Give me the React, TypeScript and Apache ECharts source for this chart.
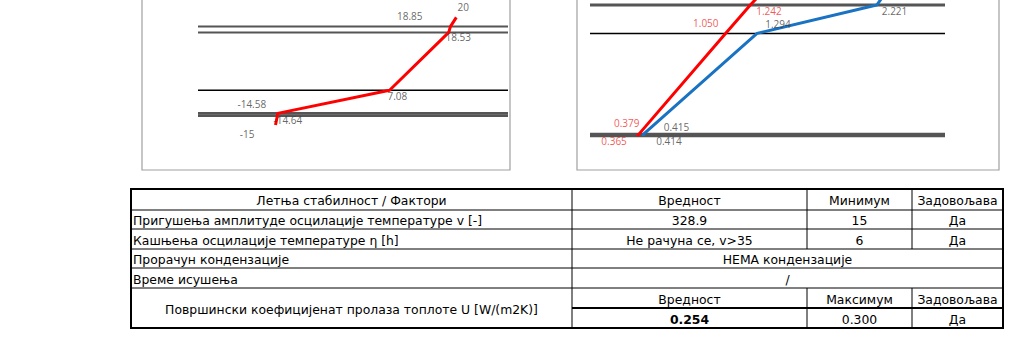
import React, { useEffect, useRef } from "react";
import * as echarts from "echarts";

// Left chart: temperature profile (°C) against position through the wall (cm from outer surface)
const tempDepths = [-4, 0, 1, 11, 36, 38.5, 42.5];
const temperatures = [-15, -14.64, -14.58, 7.08, 18.53, 18.85, 20];
const tempLayerBounds = [0, 1, 11, 36, 38.5];

// Right chart: vapour pressures (kPa) against equivalent air-layer thickness sd (m)
const sdBounds = [0, 0.07, 3.8, 4.85, 5.3];
const redPressure = [0.365, 0.379, 1.05, 1.242, 1.33];
const bluePressure = [0.414, 0.415, 1.294, 2.221, 2.29];

// Table
const tableHeader = ["Летња стабилност / Фактори", "Вредност", "Минимум", "Задовољава"];
const rowDamping = ["Пригушења амплитуде осцилације температуре v [-]", "328.9", "15", "Да"];
const rowDelay = ["Кашњења осцилације температуре η [h]", "Не рачуна се, v>35", "6", "Да"];
const rowCondensation = ["Прорачун кондензације", "НЕМА кондензације"];
const rowDrying = ["Време исушења", "/"];
const uLabel = "Површински коефицијенат пролаза топлоте U [W/(m2K)]";
const uHeader = ["Вредност", "Максимум", "Задовољава"];
const uValues = ["0.254", "0.300", "Да"];

const LX = [-30, 30];
const LY = [-20, 50];
const RX = [0, 2.75];
const RY = [-1, 5.037];

const GREY = "#555555";
const leftBoundStyles = [
  { color: GREY, width: 2.6 },
  { color: GREY, width: 2.6 },
  { color: "#000000", width: 1.5 },
  { color: GREY, width: 2 },
  { color: GREY, width: 2 },
];
const rightBoundStyles = [
  { color: GREY, width: 2.6 },
  { color: GREY, width: 2.6 },
  { color: "#000000", width: 1.5 },
  { color: GREY, width: 3 },
  { color: GREY, width: 2 },
];

const leftLabelPos: [number, number, string][] = [
  [-20.5, 9.5, "right"],
  [-3.4, 4.3, "left"],
  [-11, -9.4, "right"],
  [-1.6, 6.7, "left"],
  [-2.7, 4.9, "left"],
  [-27.4, -9.9, "right"],
  [1.7, -10.1, "left"],
];
const redLabelPos: [number, number, string][] = [
  [-9.8, 5.7, "right"],
  [1.1, -10.8, "right"],
  [-6.5, -9.4, "right"],
  [6.4, 6.0, "left"],
];
const blueLabelPos: [number, number, string][] = [
  [13.3, 5.7, "left"],
  [20.7, -6.4, "left"],
  [8.7, -8.6, "left"],
  [5.6, 6.6, "left"],
];

const LABEL_FONT = "'Open Sans', 'Noto Sans', sans-serif";

function labelItems(
  xs: number[],
  ys: number[],
  pos: [number, number, string][],
  fmt: (v: number) => string,
  color: string
) {
  return pos.map((p, i) => ({
    value: [xs[i], ys[i]],
    label: {
      show: true,
      position: [p[0], p[1]],
      align: p[2],
      verticalAlign: "middle",
      formatter: fmt(xs[i]),
      color,
      fontSize: 10,
      lineHeight: 10,
      fontFamily: LABEL_FONT,
    },
  }));
}

function boundSeries(bounds: number[], styles: any[], xr: number[], axis: number) {
  return bounds.map((b, i) => ({
    type: "line",
    xAxisIndex: axis,
    yAxisIndex: axis,
    data: [
      [xr[0], b],
      [xr[1], b],
    ],
    symbol: "none",
    silent: true,
    lineStyle: styles[i],
    z: 1,
  }));
}

function tableGraphics() {
  const X = [131, 572, 807, 912, 1003];
  const Y = [189, 210, 229, 249, 268, 288, 308, 328];
  const yc = (i: number) => (Y[i] + Y[i + 1]) / 2 + 1;
  const font = "12.4px 'DejaVu Sans', sans-serif";
  const els: any[] = [];
  const line = (x1: number, y1: number, x2: number, y2: number, w = 1) =>
    els.push({
      type: "line",
      shape: { x1, y1, x2, y2 },
      style: { stroke: "#000", lineWidth: w },
    });
  const text = (t: string, x: number, y: number, align: string, bold = false) =>
    els.push({
      type: "text",
      style: {
        text: t,
        x,
        y,
        font: (bold ? "bold " : "") + font,
        fill: "#000",
        align,
        verticalAlign: "middle",
        textAlign: align,
        textVerticalAlign: "middle",
      },
    });
  [1, 2, 3, 4, 5].forEach((i) => line(X[0], Y[i], X[4], Y[i]));
  line(X[1], Y[6], X[4], Y[6], 2);
  line(X[1], Y[0], X[1], Y[7]);
  [2, 3].forEach((j) => {
    line(X[j], Y[0], X[j], Y[3]);
    line(X[j], Y[5], X[j], Y[7]);
  });
  els.push({
    type: "rect",
    shape: { x: X[0], y: Y[0], width: X[4] - X[0], height: Y[7] - Y[0] },
    style: { fill: "none", stroke: "#000", lineWidth: 2 },
  });
  const cx = (a: number, b: number) => (X[a] + X[b]) / 2;
  text(tableHeader[0], cx(0, 1), yc(0), "center");
  text(tableHeader[1], cx(1, 2), yc(0), "center");
  text(tableHeader[2], cx(2, 3), yc(0), "center");
  text(tableHeader[3], cx(3, 4), yc(0), "center");
  [rowDamping, rowDelay].forEach((r, k) => {
    const i = k + 1;
    text(r[0], X[0] + 2, yc(i), "left");
    text(r[1], cx(1, 2), yc(i), "center");
    text(r[2], cx(2, 3), yc(i), "center");
    text(r[3], cx(3, 4), yc(i), "center");
  });
  [rowCondensation, rowDrying].forEach((r, k) => {
    const i = k + 3;
    text(r[0], X[0] + 2, yc(i), "left");
    text(r[1], cx(1, 4), yc(i), "center");
  });
  text(uLabel, cx(0, 1), (Y[5] + Y[7]) / 2 + 1, "center");
  uHeader.forEach((t, j) => text(t, cx(j + 1, j + 2), yc(5), "center"));
  uValues.forEach((t, j) => text(t, cx(j + 1, j + 2), yc(6), "center", j === 0));
  return els;
}

export default function App() {
  const ref = useRef<HTMLDivElement>(null);
  useEffect(() => {
    if (!ref.current) return;
    const chart = echarts.init(ref.current, null, { renderer: "svg" });
    const fmt2 = (v: number) => String(v);
    const fmt3 = (v: number) => v.toFixed(3);
    const option: any = {
      animation: false,
      backgroundColor: "#ffffff",
      grid: [
        { left: 198, top: 0, width: 310, height: 162 },
        { left: 590, top: 0, width: 355, height: 163 },
      ],
      xAxis: [
        { type: "value", gridIndex: 0, min: LX[0], max: LX[1], show: false },
        { type: "value", gridIndex: 1, min: RX[0], max: RX[1], show: false },
      ],
      yAxis: [
        { type: "value", gridIndex: 0, min: LY[0], max: LY[1], show: false },
        { type: "value", gridIndex: 1, min: RY[0], max: RY[1], show: false },
      ],
      graphic: [
        {
          type: "rect",
          shape: { x: 142, y: -5, width: 368, height: 175 },
          style: { fill: "none", stroke: "#a0a0a0", lineWidth: 1.2 },
        },
        {
          type: "rect",
          shape: { x: 577, y: -5, width: 422, height: 175 },
          style: { fill: "none", stroke: "#a0a0a0", lineWidth: 1.2 },
        },
        ...tableGraphics(),
      ],
      series: [
        ...boundSeries(tempLayerBounds, leftBoundStyles, LX, 0),
        ...boundSeries(sdBounds, rightBoundStyles, RX, 1),
        {
          type: "line",
          xAxisIndex: 0,
          yAxisIndex: 0,
          data: temperatures.map((t, i) => [t, tempDepths[i]]),
          symbol: "none",
          lineStyle: { color: "#ff0000", width: 3 },
          z: 3,
        },
        {
          type: "line",
          xAxisIndex: 1,
          yAxisIndex: 1,
          data: redPressure.map((p, i) => [p, sdBounds[i]]),
          symbol: "none",
          lineStyle: { color: "#ff0000", width: 3 },
          z: 3,
        },
        {
          type: "line",
          xAxisIndex: 1,
          yAxisIndex: 1,
          data: bluePressure.map((p, i) => [p, sdBounds[i]]),
          symbol: "none",
          lineStyle: { color: "#1a73c2", width: 3 },
          z: 3,
        },
        {
          type: "scatter",
          xAxisIndex: 0,
          yAxisIndex: 0,
          symbolSize: 1,
          itemStyle: { color: "transparent" },
          silent: true,
          z: 4,
          data: labelItems(temperatures, tempDepths, leftLabelPos, fmt2, "#404040"),
        },
        {
          type: "scatter",
          xAxisIndex: 1,
          yAxisIndex: 1,
          symbolSize: 1,
          itemStyle: { color: "transparent" },
          silent: true,
          z: 4,
          data: labelItems(redPressure, sdBounds, redLabelPos, fmt3, "#f02e2e"),
        },
        {
          type: "scatter",
          xAxisIndex: 1,
          yAxisIndex: 1,
          symbolSize: 1,
          itemStyle: { color: "transparent" },
          silent: true,
          z: 4,
          data: labelItems(bluePressure, sdBounds, blueLabelPos, fmt3, "#404040"),
        },
      ],
    };
    chart.setOption(option);
    return () => chart.dispose();
  }, []);
  return (
    <div
      ref={ref}
      style={{ position: "absolute", left: 0, top: 0, width: 1023, height: 360, background: "#fff" }}
    />
  );
}
